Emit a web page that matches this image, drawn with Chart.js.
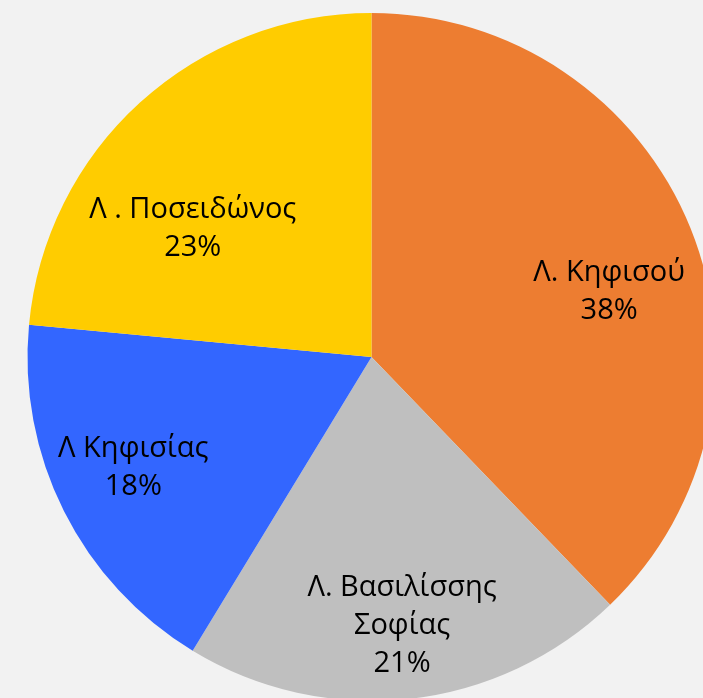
<!DOCTYPE html>
<html>
<head>
<meta charset="utf-8">
<script src="https://cdn.jsdelivr.net/npm/chart.js@4"></script>
<style>
html,body{margin:0;padding:0;background:#f2f2f2;overflow:hidden;width:703px;height:698px;}
#wrap{position:absolute;left:0;top:0;width:743px;height:714px;}
</style>
</head>
<body>
<div id="wrap"><canvas id="c"></canvas></div>
<script>
const categories = [["Λ. Κηφισού"], ["Λ. Βασιλίσσης", "Σοφίας"], ["Λ Κηφισίας"], ["Λ . Ποσειδώνος"]];
const values = [37.8, 20.9, 17.8, 23.5];
const percentLabels = ["38%", "21%", "18%", "23%"];
const colors = ["#ED7D31", "#BFBFBF", "#3366FF", "#FFCC00"];

// label placement tweaks (angle offset in degrees, radius fraction)
const labelAngleOffset = [6.7, -0.2, 1.8, -12.1];
const labelRadiusFrac = [0.716, 0.785, 0.763, 0.639];

const labelPlugin = {
  id: 'sliceLabels',
  afterDatasetsDraw(chart) {
    const ctx = chart.ctx;
    const meta = chart.getDatasetMeta(0);
    ctx.save();
    ctx.fillStyle = '#000';
    ctx.font = '29px "Open Sans", sans-serif';
    ctx.textAlign = 'center';
    ctx.textBaseline = 'middle';
    const lh = 38;
    meta.data.forEach((arc, i) => {
      const p = arc.getProps(['x','y','startAngle','endAngle','outerRadius'], true);
      const mid = (p.startAngle + p.endAngle) / 2 + labelAngleOffset[i] * Math.PI / 180;
      const r = p.outerRadius * labelRadiusFrac[i];
      const cx = p.x + Math.cos(mid) * r;
      const cy = p.y + Math.sin(mid) * r;
      const lines = categories[i].concat([percentLabels[i]]);
      const y0 = cy - (lines.length - 1) * lh / 2;
      lines.forEach((t, k) => ctx.fillText(t, cx, y0 + k * lh));
    });
    ctx.restore();
  }
};

new Chart(document.getElementById('c'), {
  type: 'pie',
  data: {
    labels: categories.map(c => c.join(' ')),
    datasets: [{
      data: values,
      backgroundColor: colors,
      borderWidth: 0
    }]
  },
  options: {
    responsive: true,
    maintainAspectRatio: false,
    animation: false,
    layout: { padding: { top: 13, bottom: 13, left: 0, right: 0 } },
    plugins: { legend: { display: false }, tooltip: { enabled: false } }
  },
  plugins: [labelPlugin]
});
</script>
</body>
</html>
